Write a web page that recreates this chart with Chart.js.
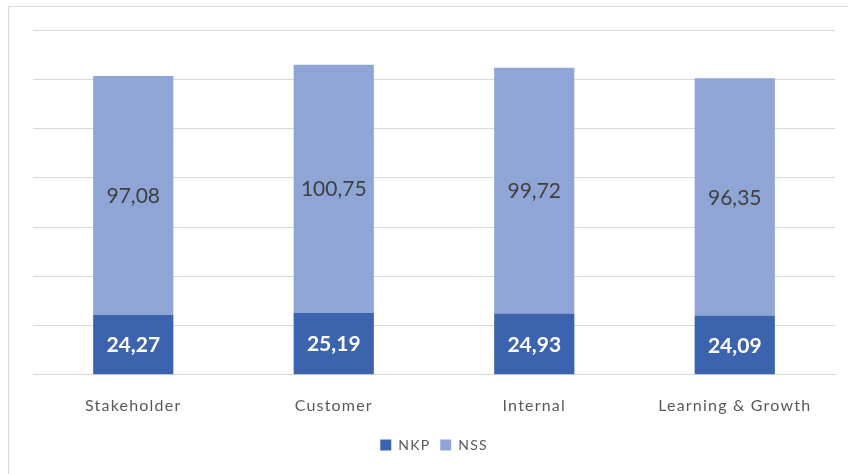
<!DOCTYPE html>
<html>
<head>
<meta charset="utf-8">
<script src="https://cdn.jsdelivr.net/npm/chart.js@4.4.1/dist/chart.umd.min.js"></script>
<style>
  html, body { margin: 0; padding: 0; background: #fff; }
  #wrap { position: relative; width: 848px; height: 474px; overflow: hidden; }
  #frame { position: absolute; left: 8px; top: 6px; width: 900px; height: 600px; border: 1px solid #d9d9d9; box-sizing: border-box; }
  #chart { position: absolute; left: 0; top: 0; }
</style>
</head>
<body>
<div id="wrap">
  <div id="frame"></div>
  <canvas id="chart" width="848" height="474"></canvas>
</div>
<script>
const categories = ['Stakeholder', 'Customer', 'Internal', 'Learning & Growth'];
const nkpValues = [24.27, 25.19, 24.93, 24.09];
const nssValues = [97.08, 100.75, 99.72, 96.35];
const seriesNames = ['NKP', 'NSS'];

const fontFamily = 'Lato, "Open Sans", sans-serif';

function formatValue(v) {
    return v.toFixed(2).replace('.', ',');
}

// a little tracking on axis and legend text
const letterSpacing = {
    id: 'letterSpacing',
    beforeLayout(chart) { chart.ctx.letterSpacing = '1.2px'; },
    beforeDraw(chart) { chart.ctx.letterSpacing = '1.2px'; }
};

// writes each segment's value in the middle of its bar
const segmentLabels = {
    id: 'segmentLabels',
    afterDatasetsDraw(chart) {
        const ctx = chart.ctx;
        ctx.save();
        ctx.letterSpacing = '0px';
        ctx.textAlign = 'center';
        ctx.textBaseline = 'middle';
        chart.data.datasets.forEach((ds, i) => {
            const meta = chart.getDatasetMeta(i);
            meta.data.forEach((bar, j) => {
                const mid = (bar.y + bar.base) / 2;
                ctx.fillStyle = ds.labelColor;
                ctx.font = ds.labelFont;
                ctx.fillText(formatValue(ds.data[j]), bar.x, mid + 1);
            });
        });
        ctx.restore();
    }
};

new Chart(document.getElementById('chart'), {
    type: 'bar',
    data: {
        labels: categories,
        datasets: [
            {
                label: seriesNames[0],
                data: nkpValues,
                backgroundColor: '#3c63ad',
                labelColor: '#ffffff',
                labelFont: 'bold 21px ' + fontFamily,
                categoryPercentage: 1,
                barPercentage: 0.4
            },
            {
                label: seriesNames[1],
                data: nssValues,
                backgroundColor: '#8fa5d6',
                labelColor: '#404040',
                labelFont: '21px ' + fontFamily,
                categoryPercentage: 1,
                barPercentage: 0.4
            }
        ]
    },
    options: {
        responsive: false,
        animation: false,
        layout: {
            padding: { left: 33, right: 13, top: 30, bottom: 12 }
        },
        scales: {
            x: {
                stacked: true,
                grid: { display: false },
                border: { display: true, color: '#d9d9d9', width: 1 },
                ticks: {
                    color: '#595959',
                    font: { family: fontFamily, size: 16 },
                    padding: 13
                }
            },
            y: {
                stacked: true,
                min: 0,
                max: 140,
                ticks: { display: false, stepSize: 20 },
                grid: { color: '#d9d9d9', lineWidth: 1, drawTicks: false },
                border: { display: false }
            }
        },
        plugins: {
            legend: {
                position: 'bottom',
                labels: {
                    color: '#595959',
                    font: { family: fontFamily, size: 14 },
                    boxWidth: 11,
                    boxHeight: 11,
                    padding: 10
                }
            },
            tooltip: { enabled: false }
        }
    },
    plugins: [letterSpacing, segmentLabels]
});
</script>
</body>
</html>
